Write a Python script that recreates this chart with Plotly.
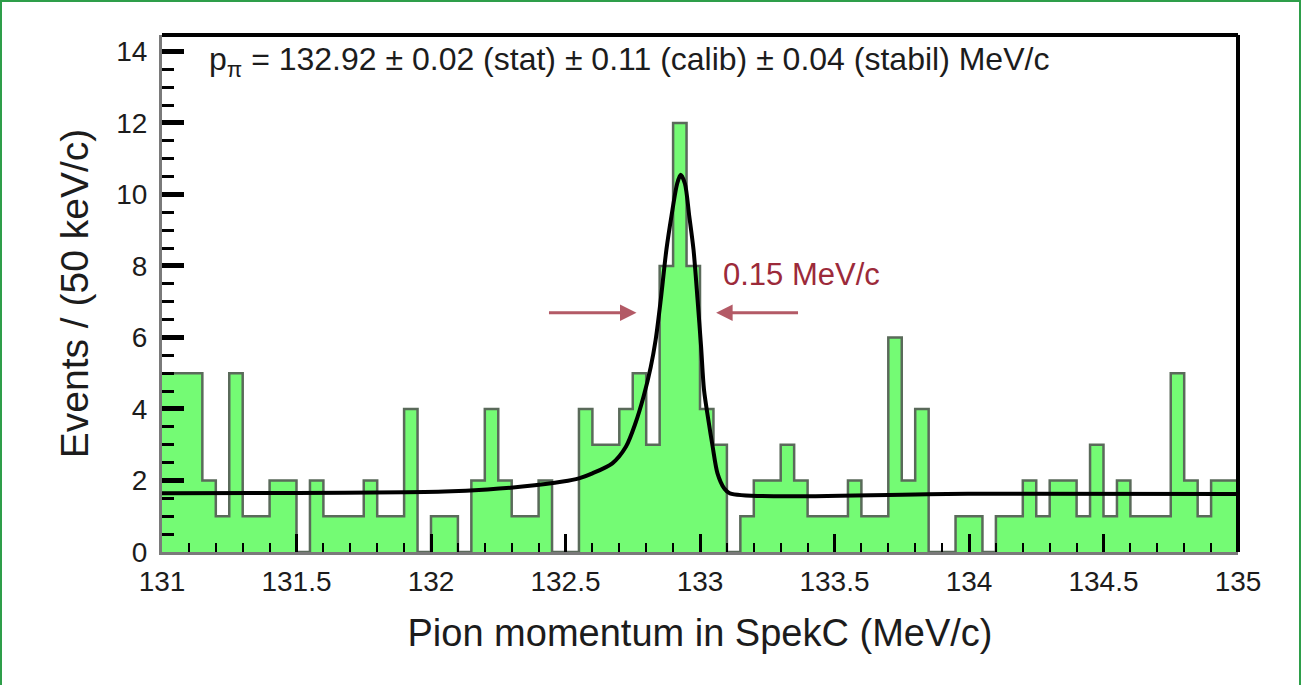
import plotly.graph_objects as go

# Histogram: 50 keV/c bins from 131 to 135 MeV/c
BIN_START = 131.0
BIN_WIDTH = 0.05
counts = [5, 5, 5, 2, 1, 5, 1, 1, 2, 2,
          0, 2, 1, 1, 1, 2, 1, 1, 4, 0,
          1, 1, 0, 2, 4, 2, 1, 1, 2, 0,
          0, 4, 3, 3, 4, 5, 3, 8, 12, 8,
          4, 3, 0, 1, 2, 2, 3, 2, 1, 1,
          1, 2, 1, 1, 6, 2, 4, 0, 0, 1,
          1, 0, 1, 1, 2, 1, 2, 2, 1, 3,
          1, 2, 1, 1, 1, 5, 2, 1, 2, 2]

# Fitted line shape (momentum, events per bin)
fit_x = [131.0, 131.5, 131.9, 132.05, 132.21, 132.34, 132.49, 132.55, 132.60,
         132.674, 132.725, 132.76, 132.79, 132.817, 132.835, 132.854, 132.875,
         132.894, 132.915, 132.928, 132.944, 132.960, 132.976, 132.991, 133.004,
         133.015, 133.033, 133.047, 133.065, 133.090, 133.111, 134.0, 135.0]
fit_y = [1.64, 1.65, 1.67, 1.69, 1.75, 1.83, 1.97, 2.06, 2.20,
         2.48, 2.95, 3.60, 4.34, 5.18, 5.93, 7.05, 8.45,
         9.40, 10.30, 10.55, 10.30, 9.40, 8.45, 7.05, 5.74,
         4.53, 3.60, 2.95, 2.20, 1.78, 1.64, 1.63, 1.62]

x_tick_vals = [131, 131.5, 132, 132.5, 133, 133.5, 134, 134.5, 135]
x_tick_text = ["131", "131.5", "132", "132.5", "133", "133.5", "134", "134.5", "135"]

edges = [BIN_START + BIN_WIDTH * i for i in range(len(counts) + 1)]
step_y = counts + [counts[-1]]

W, H = 1302, 685
ML, MR, MT, MB = 162, 64, 35, 133
PW, PH = W - ML - MR, H - MT - MB

FONT = "Liberation Sans, Arial, Helvetica, sans-serif"
TXT = "#1c1c1c"

fig = go.Figure()
fig.add_trace(go.Scatter(
    x=edges, y=step_y, mode="lines",
    line=dict(shape="hv", color="#5a6a5a", width=2.5),
    fill="tozeroy", fillcolor="#74fb74",
    hoverinfo="skip", showlegend=False,
))
fig.add_trace(go.Scatter(
    x=fit_x, y=fit_y, mode="lines",
    line=dict(color="black", width=4, shape="spline", smoothing=0.8),
    hoverinfo="skip", showlegend=False,
))

fig.update_layout(
    width=W, height=H,
    margin=dict(l=ML, r=MR, t=MT, b=MB),
    paper_bgcolor="white", plot_bgcolor="white",
    font=dict(family=FONT, color=TXT),
    showlegend=False,
    xaxis=dict(
        range=[131, 135], tickvals=x_tick_vals, ticktext=x_tick_text,
        ticks="inside", ticklen=18, tickwidth=3, tickcolor="black",
        minor=dict(dtick=0.1, tick0=131, ticks="inside", ticklen=9, tickwidth=2, tickcolor="black"),
        showline=True, linecolor="#7a7a7a", linewidth=3,
        showgrid=False, zeroline=False,
        tickfont=dict(size=28, color=TXT), ticklabelstandoff=2,
        title=dict(text="Pion momentum in SpekC (MeV/c)", font=dict(size=38, color=TXT), standoff=24),
    ),
    yaxis=dict(
        range=[0, 14.46], dtick=2, tick0=0,
        ticks="inside", ticklen=22, tickwidth=5, tickcolor="black",
        minor=dict(dtick=0.5, tick0=0, ticks="inside", ticklen=12, tickwidth=3, tickcolor="black"),
        showline=True, linecolor="#7a7a7a", linewidth=3,
        showgrid=False, zeroline=False,
        tickfont=dict(size=28, color=TXT), ticklabelstandoff=6,
        title=dict(text="Events / (50 keV/c)", font=dict(size=39, color=TXT), standoff=16),
    ),
)

# Frame: black top and right edges
fig.add_shape(type="line", xref="x domain", yref="y domain", x0=0, x1=1, y0=1, y1=1,
              line=dict(color="black", width=4))
fig.add_shape(type="line", xref="x domain", yref="y domain", x0=1, x1=1, y0=0, y1=1,
              line=dict(color="black", width=4))

# Thin green border around the whole figure
fig.add_shape(type="rect", xref="paper", yref="paper",
              x0=(1 - ML) / PW, x1=(W - 2 - ML) / PW,
              y0=(MT + PH - (H + 2)) / PH, y1=(MT + PH - 1) / PH,
              line=dict(color="#2e9e4a", width=2), fillcolor="rgba(0,0,0,0)", layer="above")

fig.add_annotation(
    xref="x domain", yref="y domain", x=0.042, y=0.948, xanchor="left", yanchor="middle",
    text="p<sub>π</sub> = 132.92 ± 0.02 (stat) ± 0.11 (calib) ± 0.04 (stabil) MeV/c",
    showarrow=False, font=dict(size=32, color=TXT),
)
fig.add_annotation(
    x=133.378, y=7.75, xref="x", yref="y", text="0.15 MeV/c",
    showarrow=False, font=dict(size=31, color="#9c2a3a"),
)
for head, tail in [(132.764, 132.433), (133.06, 133.37)]:
    fig.add_annotation(
        x=head, y=6.69, ax=tail, ay=6.69, xref="x", yref="y", axref="x", ayref="y",
        text="", showarrow=True, arrowhead=2, arrowsize=1.1, arrowwidth=3,
        arrowcolor="#b35a66",
    )

fig.write_html("out.html")
